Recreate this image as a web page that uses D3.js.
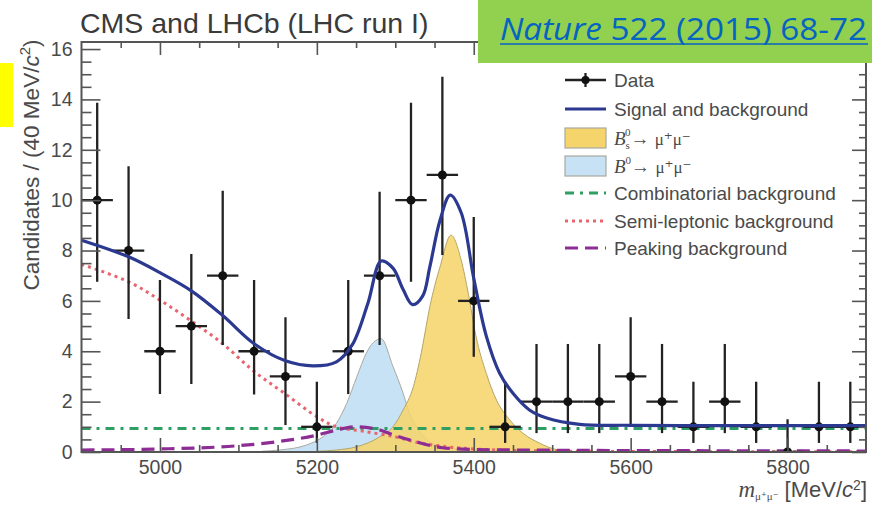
<!DOCTYPE html>
<html>
<head>
<meta charset="utf-8">
<script src="https://cdn.jsdelivr.net/npm/d3@7"></script>
<style>
  body { margin: 0; background: #fff; }
  svg { display: block; }
</style>
</head>
<body>
<svg id="chart" width="872" height="506"></svg>
<script>
// binned data, 40 MeV bins
const binCenters = [4920, 4960, 5000, 5040, 5080, 5120, 5160, 5200, 5240, 5280, 5320, 5360, 5400,
                    5440, 5480, 5520, 5560, 5600, 5640, 5680, 5720, 5760, 5800, 5840, 5880];
const counts     = [10, 8, 4, 5, 7, 4, 3, 1, 4, 7, 10, 11, 6, 1, 2, 2, 2, 3, 2, 1, 2, 1, 0, 1, 1];
const errLow     = [6.76, 5.28, 2.3, 2.7, 4.25, 2.28, 1.07, 0.36, 2.3, 4.25, 6.76, 7.82, 3.78,
                    0.36, 0.75, 0.75, 0.75, 1.0, 0.75, 0.36, 0.75, 0.36, 0, 0.36, 0.36];
const errHigh    = [13.87, 11.35, 6.83, 7.86, 10.37, 6.83, 5.35, 2.79, 6.83, 10.33, 13.87, 14.9, 9.33,
                    2.79, 4.29, 4.29, 4.29, 5.35, 4.29, 2.79, 4.29, 2.79, 1.3, 2.79, 2.79];
const binHalf = 20;

// fit components
const totalM = [4900, 4960, 5000, 5040, 5080, 5120, 5160, 5195, 5225, 5245, 5265, 5282, 5297,
                5310, 5322, 5335, 5344, 5357, 5370, 5384, 5400, 5416, 5433, 5450, 5471, 5493, 5535,
                5600, 5700, 5800, 5900];
const totalV = [8.41, 7.75, 7.12, 6.4, 5.42, 4.3, 3.62, 3.42, 3.58, 4.25, 5.9, 7.58, 7.3,
                6.45, 5.85, 6.2, 7.35, 9.2, 10.2, 9.5, 6.9, 4.6, 3.13, 2.33, 1.67, 1.35, 1.1,
                1.06, 1.05, 1.05, 1.05];

const semiM = [4900, 4960, 5000, 5040, 5080, 5120, 5160, 5200, 5225, 5260, 5300, 5330, 5365, 5400,
               5450, 5500, 5600, 5900];
const semiV = [7.45, 6.76, 6.03, 5.2, 4.3, 3.2, 2.3, 1.4, 1.0, 0.82, 0.6, 0.37, 0.21, 0.12,
               0.06, 0.04, 0.02, 0.01];

const peakM = [4900, 5000, 5100, 5150, 5200, 5225, 5250, 5275, 5300, 5325, 5360, 5400, 5500, 5700, 5900];
const peakV = [0.08, 0.12, 0.25, 0.41, 0.67, 0.87, 1.0, 0.92, 0.65, 0.42, 0.17, 0.1, 0.07, 0.05, 0.04];

const combM = [4900, 5900];
const combV = [0.93, 0.93];

const b0M = [5130, 5153, 5187, 5208, 5225, 5238, 5251, 5263, 5272, 5282, 5297, 5310, 5318, 5327,
             5340, 5360, 5400, 5450];
const b0V = [0.03, 0.08, 0.28, 0.61, 1.14, 1.93, 2.99, 3.92, 4.35, 4.5, 3.4, 2.33, 1.54, 1.0,
             0.5, 0.22, 0.07, 0.02];

const bsM = [5200, 5225, 5251, 5280, 5297, 5310, 5323, 5333, 5344, 5357, 5371, 5384, 5393, 5403,
             5416, 5429, 5446, 5463, 5484, 5505, 5530];
const bsV = [0.03, 0.08, 0.21, 0.6, 1.0, 1.67, 2.59, 3.92, 5.77, 7.35, 8.61, 7.62, 6.3, 4.58,
             3.12, 2.06, 1.27, 0.74, 0.35, 0.1, 0.02];

const xMajor = [5000, 5200, 5400, 5600, 5800];
const yMajor = [0, 2, 4, 6, 8, 10, 12, 14, 16];

const Left = 81.5, Right = 866, Top = 42, Bottom = 452;
const axisCol = "#555", textCol = "#4a4a4a";
const sans = "'Liberation Sans', Arial, sans-serif";
const serif = "'Liberation Serif', 'DejaVu Serif', serif";

const svg = d3.select("#chart");
const x = d3.scaleLinear([4900, 5900], [Left, Right]);
const y = d3.scaleLinear([0, 16.28], [Bottom, Top]);

const zip = (M, V) => M.map((m, i) => [m, V[i]]);
const line = d3.line().x(d => x(d[0])).y(d => y(d[1])).curve(d3.curveMonotoneX);
const smooth = d3.line().x(d => x(d[0])).y(d => y(d[1])).curve(d3.curveCatmullRom.alpha(0.5));
const area = d3.area().x(d => x(d[0])).y0(y(0)).y1(d => y(d[1])).curve(d3.curveMonotoneX);

svg.append("defs").append("clipPath").attr("id", "plotclip")
  .append("rect").attr("x", Left).attr("y", Top).attr("width", Right - Left).attr("height", Bottom - Top);

const plot = svg.append("g").attr("clip-path", "url(#plotclip)");

// signal fills (not stacked)
plot.append("path").attr("d", area(zip(b0M, b0V)))
  .attr("fill", "#c7e2f5").attr("stroke", "#a9a9a0").attr("stroke-width", 1);
plot.append("path").attr("d", area(zip(bsM, bsV)))
  .attr("fill", "#f6d46c").attr("fill-opacity", 0.88).attr("stroke", "#b3a66a").attr("stroke-width", 1);

// background components
plot.append("path").attr("d", line(zip(combM, combV)))
  .attr("fill", "none").attr("stroke", "#2e9e62").attr("stroke-width", 3)
  .attr("stroke-dasharray", "9,6,3,6");
plot.append("path").attr("d", smooth(zip(semiM, semiV)))
  .attr("fill", "none").attr("stroke", "#e9646e").attr("stroke-width", 3)
  .attr("stroke-dasharray", "3,4");
plot.append("path").attr("d", line(zip(peakM, peakV)))
  .attr("fill", "none").attr("stroke", "#8d2c94").attr("stroke-width", 3.2)
  .attr("stroke-dasharray", "13,7");

// data points with error bars
const pts = plot.append("g").selectAll("g").data(binCenters).join("g");
pts.append("line")
  .attr("x1", d => x(d)).attr("x2", d => x(d))
  .attr("y1", (d, i) => y(errLow[i])).attr("y2", (d, i) => y(errHigh[i]))
  .attr("stroke", "#222").attr("stroke-width", 2.3);
pts.append("line")
  .attr("x1", d => x(d - binHalf)).attr("x2", d => x(d + binHalf))
  .attr("y1", (d, i) => y(counts[i])).attr("y2", (d, i) => y(counts[i]))
  .attr("stroke", "#222").attr("stroke-width", 2.3);
pts.append("circle")
  .attr("cx", d => x(d)).attr("cy", (d, i) => y(counts[i])).attr("r", 4.5)
  .attr("fill", "#111");

// total fit
plot.append("path").attr("d", smooth(zip(totalM, totalV)))
  .attr("fill", "none").attr("stroke", "#2b3990").attr("stroke-width", 3.2);

// axes: ticks pointing inward on all four sides
function styleAxis(g) {
  g.select(".domain").remove();
  g.selectAll(".tick line").attr("stroke", axisCol).attr("stroke-width", 1.6);
  g.selectAll(".tick text").attr("fill", textCol).attr("font-family", sans).attr("font-size", 19.5);
}
const xMinor = d3.range(4950, 5900, 50).filter(v => !xMajor.includes(v));
const yMinor = d3.range(0.5, 16.1, 0.5).filter(v => !yMajor.includes(v));

svg.append("g").attr("transform", `translate(0,${Bottom})`)
  .call(d3.axisBottom(x).tickValues(xMajor).tickSize(-14).tickPadding(8).tickFormat(d3.format("d")))
  .call(styleAxis);
svg.append("g").attr("transform", `translate(0,${Bottom})`)
  .call(d3.axisBottom(x).tickValues(xMinor).tickSize(-7).tickFormat(""))
  .call(styleAxis);
svg.append("g").attr("transform", `translate(0,${Top})`)
  .call(d3.axisTop(x).tickValues(xMajor).tickSize(-13).tickFormat(""))
  .call(styleAxis);
svg.append("g").attr("transform", `translate(0,${Top})`)
  .call(d3.axisTop(x).tickValues(xMinor).tickSize(-6).tickFormat(""))
  .call(styleAxis);
svg.append("g").attr("transform", `translate(${Left},0)`)
  .call(d3.axisLeft(y).tickValues(yMajor).tickSize(-19).tickPadding(9).tickFormat(d3.format("d")))
  .call(styleAxis);
svg.append("g").attr("transform", `translate(${Left},0)`)
  .call(d3.axisLeft(y).tickValues(yMinor).tickSize(-10).tickFormat(""))
  .call(styleAxis);
svg.append("g").attr("transform", `translate(${Right},0)`)
  .call(d3.axisRight(y).tickValues(yMajor).tickSize(-14).tickFormat(""))
  .call(styleAxis);
svg.append("g").attr("transform", `translate(${Right},0)`)
  .call(d3.axisRight(y).tickValues(yMinor).tickSize(-7).tickFormat(""))
  .call(styleAxis);

svg.append("rect").attr("x", Left).attr("y", Top).attr("width", Right - Left).attr("height", Bottom - Top)
  .attr("fill", "none").attr("stroke", axisCol).attr("stroke-width", 2);

// title
svg.append("text").attr("x", 80).attr("y", 33)
  .attr("font-family", sans).attr("font-size", 28.5).attr("fill", "#3a3a3a")
  .text("CMS and LHCb (LHC run I)");

// y label
const yl = svg.append("text").attr("transform", "translate(39,165) rotate(-90)")
  .attr("text-anchor", "middle").attr("font-family", sans).attr("font-size", 22.5).attr("fill", textCol);
yl.append("tspan").text("Candidates / (40 MeV/");
yl.append("tspan").attr("font-style", "italic").text("c");
yl.append("tspan").attr("font-size", 15).attr("dy", -9).text("2");
yl.append("tspan").attr("dy", 9).text(")");

// x label
const xl = svg.append("text").attr("x", Right + 1).attr("y", 497).attr("text-anchor", "end")
  .attr("font-family", sans).attr("font-size", 22).attr("fill", textCol);
xl.append("tspan").attr("font-family", serif).attr("font-style", "italic").attr("font-size", 23).text("m");
xl.append("tspan").attr("font-family", serif).attr("font-size", 11).attr("dy", 3).text("μ⁺μ⁻");
xl.append("tspan").attr("dy", -3).text(" [MeV/");
xl.append("tspan").attr("font-style", "italic").text("c");
xl.append("tspan").attr("font-size", 14).attr("dy", -7).text("2");
xl.append("tspan").attr("dy", 7).text("]");

// legend
const legendRows = [
  { key: "data", y: 80 },
  { key: "total", y: 109 },
  { key: "bs", y: 138 },
  { key: "b0", y: 166 },
  { key: "comb", y: 193 },
  { key: "semi", y: 221 },
  { key: "peak", y: 248 }
];
const legendLabels = {
  data: "Data",
  total: "Signal and background",
  comb: "Combinatorial background",
  semi: "Semi-leptonic background",
  peak: "Peaking background"
};
const lg = svg.append("g");
const sx0 = 565, sx1 = 606, tx = 614;
legendRows.forEach(r => {
  if (r.key === "data") {
    lg.append("line").attr("x1", sx0).attr("x2", sx1).attr("y1", r.y).attr("y2", r.y)
      .attr("stroke", "#222").attr("stroke-width", 2.3);
    lg.append("line").attr("x1", (sx0 + sx1) / 2).attr("x2", (sx0 + sx1) / 2).attr("y1", r.y - 7).attr("y2", r.y + 7)
      .attr("stroke", "#222").attr("stroke-width", 2.3);
    lg.append("circle").attr("cx", (sx0 + sx1) / 2).attr("cy", r.y).attr("r", 4).attr("fill", "#111");
  } else if (r.key === "total") {
    lg.append("line").attr("x1", sx0).attr("x2", sx1).attr("y1", r.y).attr("y2", r.y)
      .attr("stroke", "#2b3990").attr("stroke-width", 3.2);
  } else if (r.key === "bs" || r.key === "b0") {
    lg.append("rect").attr("x", sx0).attr("y", r.y - 10).attr("width", sx1 - sx0).attr("height", 20)
      .attr("fill", r.key === "bs" ? "#f6d46c" : "#c7e2f5").attr("stroke", "#a9a9a0").attr("stroke-width", 1.2);
  } else {
    const st = {
      comb: ["#2e9e62", "9,6,3,6"],
      semi: ["#e9646e", "3,4"],
      peak: ["#8d2c94", "13,7"]
    }[r.key];
    lg.append("line").attr("x1", sx0).attr("x2", sx1).attr("y1", r.y).attr("y2", r.y)
      .attr("stroke", st[0]).attr("stroke-width", 3).attr("stroke-dasharray", st[1]);
  }
  const t = lg.append("text").attr("x", tx).attr("y", r.y + 7)
    .attr("font-family", sans).attr("font-size", 19).attr("fill", textCol);
  if (r.key === "bs" || r.key === "b0") {
    t.append("tspan").attr("font-family", serif).attr("font-style", "italic").attr("font-size", 19).text("B");
    if (r.key === "bs") {
      t.append("tspan").attr("font-family", serif).attr("font-size", 11).attr("dy", 4).text("s");
      t.append("tspan").attr("font-family", serif).attr("font-size", 11).attr("dx", -5).attr("dy", -13).text("0");
      t.append("tspan").attr("dy", 9).text("→ ");
    } else {
      t.append("tspan").attr("font-family", serif).attr("font-size", 11).attr("dy", -9).text("0");
      t.append("tspan").attr("dy", 9).text("→ ");
    }
    t.append("tspan").attr("font-family", serif).attr("font-size", 17).text("μ⁺μ⁻");
  } else {
    t.text(legendLabels[r.key]);
  }
});

// slide overlays
svg.append("rect").attr("x", 0).attr("y", 63).attr("width", 13).attr("height", 64).attr("fill", "#ffff00");
svg.append("rect").attr("x", 478).attr("y", 0).attr("width", 394).attr("height", 63).attr("fill", "#92d050");
const ref = svg.append("text").attr("x", 500).attr("y", 40)
  .attr("font-family", "'Open Sans', Lato, sans-serif").attr("font-size", 31).attr("fill", "#0563c1")
  .attr("textLength", 367).attr("lengthAdjust", "spacingAndGlyphs");
ref.append("tspan").attr("font-style", "italic").text("Nature");
ref.append("tspan").text(" 522 (2015) 68-72");
svg.append("line").attr("x1", 500).attr("x2", 868).attr("y1", 44).attr("y2", 44)
  .attr("stroke", "#0563c1").attr("stroke-width", 1.6);
</script>
</body>
</html>
